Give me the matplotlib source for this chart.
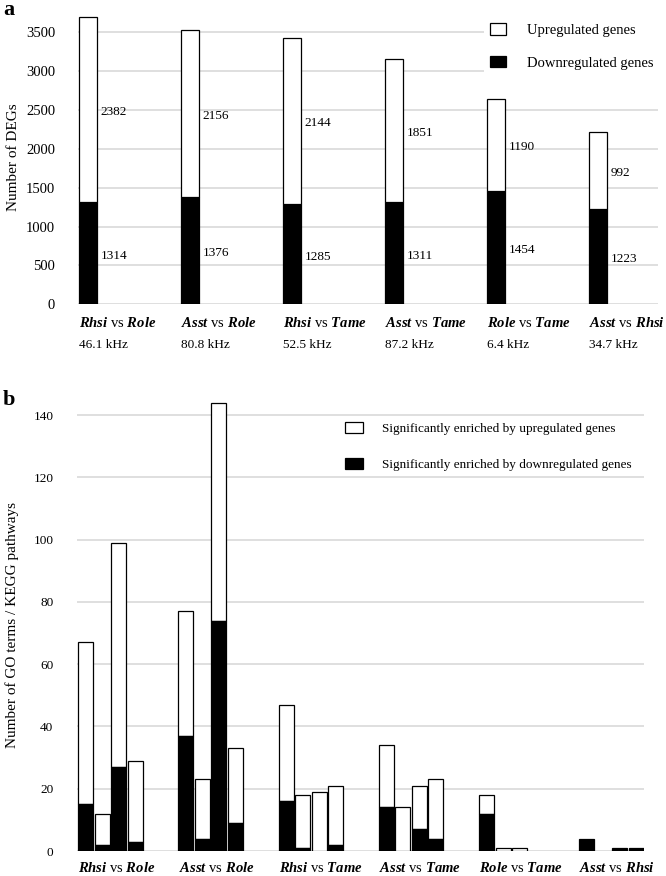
import matplotlib
matplotlib.use("Agg")
import matplotlib.pyplot as plt
import matplotlib.patches as mpatches
import matplotlib.transforms as mtrans
import numpy as np

plt.rcParams['font.family'] = ['Liberation Serif', 'DejaVu Serif']
plt.rcParams['mathtext.fontset'] = 'custom'
plt.rcParams['mathtext.rm'] = 'Liberation Serif'
plt.rcParams['mathtext.it'] = 'Liberation Serif:italic'
plt.rcParams['mathtext.bf'] = 'Liberation Serif:bold'
plt.rcParams['mathtext.bfit'] = 'Liberation Serif:bold:italic'

# comparisons (species pairs) and frequency of each
pairs = [('Rhsi', 'Role'), ('Asst', 'Role'), ('Rhsi', 'Tame'),
         ('Asst', 'Tame'), ('Role', 'Tame'), ('Asst', 'Rhsi')]
khz = ['46.1 kHz', '80.8 kHz', '52.5 kHz', '87.2 kHz', '6.4 kHz', '34.7 kHz']

# panel a: number of DEGs
down_a = [1314, 1376, 1285, 1311, 1454, 1223]
up_a = [2382, 2156, 2144, 1851, 1190, 992]

# panel b: GO terms / KEGG pathways, four bars per comparison
down_b = [[15, 2, 27, 3],
          [37, 4, 74, 9],
          [16, 1, 0, 2],
          [14, 0, 7, 4],
          [12, 0, 0, 0],
          [4, 0, 1, 1]]
up_b = [[52, 10, 72, 26],
        [40, 19, 70, 24],
        [31, 17, 19, 19],
        [20, 14, 14, 19],
        [6, 1, 1, 0],
        [0, 0, 0, 0]]

W, H = 666, 876
fig = plt.figure(figsize=(W / 100, H / 100), dpi=100)

def axes_px(l, r, t, b):
    return fig.add_axes([l / W, 1 - b / H, (r - l) / W, (b - t) / H])

def labelled(a, b):
    return r'$\mathbfit{%s}$ vs $\mathbfit{%s}$' % (a, b)

grid_c = '#d9d9d9'

def style(ax):
    for s in ax.spines.values():
        s.set_visible(False)
    ax.set_axisbelow(True)
    ax.yaxis.grid(True, color=grid_c, linewidth=1.2)
    ax.tick_params(axis='y', length=0)
    ax.set_xticks([])

# ---------------- panel a ----------------
ax1 = axes_px(78, 658, 10, 304.3)
style(ax1)
x = np.arange(len(pairs))
bw = 0.176
ax1.bar(x, down_a, bw, color='black', edgecolor='black', linewidth=0.9)
ax1.bar(x, up_a, bw, bottom=down_a, color='white', edgecolor='black', linewidth=0.9)
for i in range(len(pairs)):
    ax1.text(i + bw / 2 + 0.035, down_a[i] / 2 - 30, str(down_a[i]),
             fontsize=9.5, va='center', ha='left')
    ax1.text(i + bw / 2 + 0.035, down_a[i] + up_a[i] / 2 - 30, str(up_a[i]),
             fontsize=9.5, va='center', ha='left')
ax1.set_xlim(-0.098, 5.588)
ax1.set_ylim(0, 3787)
ax1.set_yticks(np.arange(0, 3501, 500))
ax1.tick_params(axis='y', labelsize=10.5, pad=16.5)
ax1.set_ylabel('Number of DEGs', fontsize=11)
ax1.yaxis.set_label_coords(-0.1, 0.5)

tr1 = mtrans.blended_transform_factory(ax1.transData, fig.transFigure)
for i, (a, b) in enumerate(pairs):
    ax1.text(i - 0.09, 1 - 323 / H, labelled(a, b), transform=tr1,
             fontsize=10.5, ha='left', va='center')
    ax1.text(i - 0.09, 1 - 345 / H, khz[i], transform=tr1,
             fontsize=9.5, ha='left', va='center')

h_up = mpatches.Patch(facecolor='white', edgecolor='black', linewidth=0.9,
                      label='Upregulated genes')
h_dn = mpatches.Patch(facecolor='black', edgecolor='black', linewidth=0.9,
                      label='Downregulated genes')
leg = ax1.legend(handles=[h_up, h_dn], loc='upper left', bbox_to_anchor=(0.70, 0.976),
                 borderaxespad=0, borderpad=0.4, fontsize=10.5,
                 handlelength=1.1, handleheight=0.85, handletextpad=1.45,
                 labelspacing=1.3, frameon=True, fancybox=False)
leg.get_frame().set_facecolor('white')
leg.get_frame().set_edgecolor('none')
leg.get_frame().set_alpha(1)

fig.text(3 / W, 1 - 15 / H, 'a', fontsize=16, fontweight='bold', va='baseline', ha='left')

# ---------------- panel b ----------------
ax2 = axes_px(77, 644, 398, 851)
style(ax2)
bwb = 0.15
pitch = 0.165
offs = (np.arange(4) - 1.5) * pitch
for j in range(4):
    dn = np.array([g[j] for g in down_b])
    up = np.array([g[j] for g in up_b])
    ax2.bar(x + offs[j], up, bwb, bottom=dn, color='white', edgecolor='black',
            linewidth=[0.9 if v > 0 else 0 for v in up])
    ax2.bar(x + offs[j], dn, bwb, color='black', edgecolor='black',
            linewidth=[0.9 if v > 0 else 0 for v in dn])
ax2.set_xlim(-0.334, 5.324)
ax2.set_ylim(0, 145.5)
ax2.set_yticks(np.arange(0, 141, 20))
ax2.tick_params(axis='y', labelsize=9.5, pad=17)
ax2.set_ylabel('Number of GO terms / KEGG pathways', fontsize=11)
ax2.yaxis.set_label_coords(-0.102, 0.5)

tr2 = mtrans.blended_transform_factory(ax2.transData, fig.transFigure)
for i, (a, b) in enumerate(pairs):
    ax2.text(i - 0.32, 1 - 868 / H, labelled(a, b), transform=tr2,
             fontsize=10.5, ha='left', va='center')

h_up2 = mpatches.Patch(facecolor='white', edgecolor='black', linewidth=0.9,
                       label='Significantly enriched by upregulated genes')
h_dn2 = mpatches.Patch(facecolor='black', edgecolor='black', linewidth=0.9,
                       label='Significantly enriched by downregulated genes')
ax2.legend(handles=[h_up2, h_dn2], loc='upper left', bbox_to_anchor=(0.464, 0.958),
           borderaxespad=0, borderpad=0.4, fontsize=9.5,
           handlelength=1.3, handleheight=0.9, handletextpad=1.45,
           labelspacing=1.7, frameon=False)

fig.text(3 / W, 1 - 405 / H, 'b', fontsize=16, fontweight='bold', va='baseline', ha='left')

fig.savefig('out.png', dpi=100)
